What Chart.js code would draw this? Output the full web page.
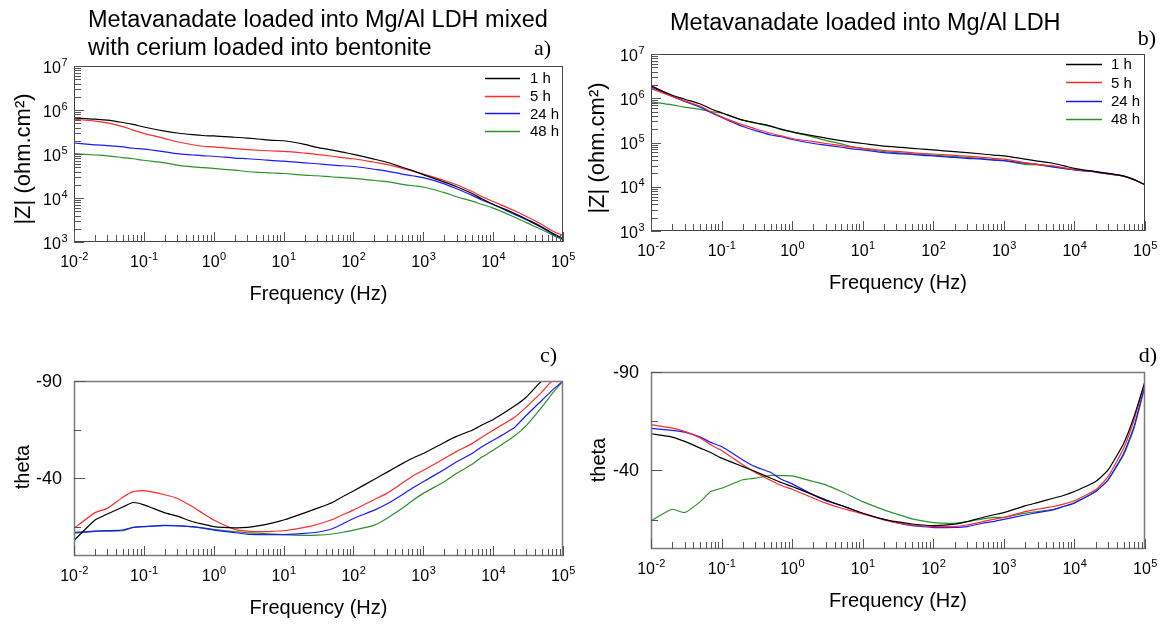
<!DOCTYPE html>
<html>
<head>
<meta charset="utf-8">
<title>Bode plots - metavanadate LDH coatings</title>
<script src="https://cdn.jsdelivr.net/npm/chart.js@4.4.1/dist/chart.umd.min.js"></script>
<style>
  html, body { margin: 0; padding: 0; background: #fff; }
  #wrap { position: relative; width: 1168px; height: 624px; overflow: hidden; }
  #wrap canvas { position: absolute; }
</style>
</head>
<body>
<div id="wrap">
  <canvas id="panelA" width="584" height="312" style="left:0;top:0"></canvas>
  <canvas id="panelB" width="584" height="312" style="left:584px;top:0"></canvas>
  <canvas id="panelC" width="584" height="312" style="left:0;top:312px"></canvas>
  <canvas id="panelD" width="584" height="312" style="left:584px;top:312px"></canvas>
</div>
<script>
// --- DATOS ---
const freq = [0.01, 0.02, 0.03, 0.05, 0.07, 0.1, 0.2, 0.3, 0.5, 0.7,
              1, 2, 3, 5, 7, 10, 20, 30, 50, 70,
              100, 200, 300, 500, 700, 1e3, 2e3, 3e3, 5e3, 7e3,
              1e4, 2e4, 3e4, 5e4, 7e4, 1e5];

const legendLabels = ['1 h', '5 h', '24 h', '48 h'];
const seriesColors = ['#000000', '#ff2a2a', '#1a1aff', '#2a922a'];

// |Z| (ohm.cm2), mezcla LDH + bentonita
const zA1  = [6.6e5, 6.2e5, 5.9e5, 5.2e5, 4.7e5, 4.1e5, 3.3e5, 3.0e5, 2.75e5, 2.63e5,
              2.57e5, 2.4e5, 2.3e5, 2.14e5, 2.04e5, 2.0e5, 1.66e5, 1.41e5, 1.23e5, 1.1e5,
              9.8e4, 7.6e4, 6.5e4, 5.0e4, 4.2e4, 3.4e4, 2.3e4, 1.8e4, 1.26e4, 9.5e3,
              7.2e3, 4.5e3, 3.3e3, 2.2e3, 1.6e3, 1.2e3];
const zA5  = [6.2e5, 5.6e5, 5.1e5, 4.2e5, 3.5e5, 2.95e5, 2.24e5, 1.9e5, 1.62e5, 1.5e5,
              1.45e5, 1.32e5, 1.26e5, 1.2e5, 1.17e5, 1.15e5, 1.05e5, 9.8e4, 8.9e4, 8.3e4,
              7.8e4, 6.5e4, 5.8e4, 4.7e4, 4.1e4, 3.5e4, 2.5e4, 2.0e4, 1.4e4, 1.07e4,
              8.3e3, 5.2e3, 3.8e3, 2.5e3, 1.8e3, 1.4e3];
const zA24 = [1.78e5, 1.62e5, 1.55e5, 1.45e5, 1.35e5, 1.29e5, 1.12e5, 1.02e5, 9.5e4, 9.1e4,
              8.9e4, 8.1e4, 7.8e4, 7.4e4, 7.1e4, 6.9e4, 6.3e4, 6.0e4, 5.6e4, 5.4e4,
              5.2e4, 4.5e4, 4.1e4, 3.5e4, 3.2e4, 2.9e4, 2.1e4, 1.62e4, 1.15e4, 8.9e3,
              7.1e3, 4.3e3, 3.2e3, 2.1e3, 1.55e3, 1.17e3];
const zA48 = [1.02e5, 9.5e4, 9.1e4, 8.3e4, 7.8e4, 7.2e4, 6.3e4, 5.6e4, 5.1e4, 4.9e4,
              4.7e4, 4.3e4, 4.0e4, 3.8e4, 3.7e4, 3.6e4, 3.3e4, 3.2e4, 3.0e4, 2.9e4,
              2.8e4, 2.5e4, 2.35e4, 2.05e4, 1.9e4, 1.78e4, 1.32e4, 1.07e4, 8.5e3, 7.1e3,
              5.9e3, 3.7e3, 2.75e3, 1.9e3, 1.45e3, 1.12e3];

// |Z| (ohm.cm2), solo LDH
const zB1  = [1.9e6, 1.17e6, 9.5e5, 7.4e5, 5.8e5, 4.7e5, 3.2e5, 2.8e5, 2.35e5, 2.0e5,
              1.74e5, 1.41e5, 1.26e5, 1.1e5, 1.02e5, 9.5e4, 8.3e4, 7.9e4, 7.4e4, 7.1e4,
              6.8e4, 6.2e4, 5.9e4, 5.5e4, 5.2e4, 5.0e4, 4.2e4, 3.8e4, 3.4e4, 3.0e4,
              2.6e4, 2.2e4, 2.0e4, 1.74e4, 1.45e4, 1.1e4];
const zB5  = [1.66e6, 1.1e6, 8.7e5, 6.6e5, 5.0e5, 3.8e5, 2.5e5, 2.05e5, 1.62e5, 1.41e5,
              1.23e5, 1.05e5, 9.5e4, 8.5e4, 7.9e4, 7.4e4, 6.6e4, 6.3e4, 5.9e4, 5.6e4,
              5.5e4, 5.1e4, 4.9e4, 4.6e4, 4.4e4, 4.2e4, 3.5e4, 3.2e4, 2.95e4, 2.7e4,
              2.45e4, 2.2e4, 2.0e4, 1.74e4, 1.45e4, 1.1e4];
const zB24 = [1.78e6, 1.1e6, 8.5e5, 6.3e5, 4.8e5, 3.7e5, 2.3e5, 1.86e5, 1.48e5, 1.35e5,
              1.17e5, 9.5e4, 8.7e4, 7.8e4, 7.2e4, 6.8e4, 5.9e4, 5.6e4, 5.4e4, 5.1e4,
              5.0e4, 4.6e4, 4.4e4, 4.2e4, 4.0e4, 3.9e4, 3.4e4, 3.2e4, 2.8e4, 2.6e4,
              2.4e4, 2.15e4, 1.95e4, 1.74e4, 1.45e4, 1.1e4];
const zB48 = [8.3e5, 7.1e5, 6.3e5, 5.6e5, 5.0e5, 4.6e5, 3.2e5, 2.75e5, 2.3e5, 1.95e5,
              1.74e5, 1.32e5, 1.12e5, 9.3e4, 8.1e4, 7.4e4, 6.2e4, 5.9e4, 5.5e4, 5.4e4,
              5.2e4, 4.8e4, 4.6e4, 4.3e4, 4.1e4, 3.9e4, 3.2e4, 3.1e4, 2.8e4, 2.6e4,
              2.4e4, 2.15e4, 1.95e4, 1.74e4, 1.45e4, 1.1e4];

// theta (grados), mezcla LDH + bentonita
const thC1  = [-8, -18.5, -21.6, -25.2, -27.5, -26.3, -22.2, -20.5, -17.6, -16.4,
               -15.1, -14.5, -14.7, -15.9, -17, -18.5, -22.2, -24.5, -27.5, -30.5,
               -33.4, -39.5, -43, -47.5, -50.3, -52.7, -58.4, -61.5, -64.7, -67.5,
               -70.2, -77, -81.8, -90, -90, -90];
const thC5  = [-14.2, -22.3, -24.5, -30.2, -33.1, -33.6, -31.5, -29.6, -25.3, -21.9,
               -18.5, -13.7, -12.8, -12.5, -12.7, -13, -14.7, -16.2, -18.8, -21.2,
               -23.6, -29.1, -32.2, -37.5, -41, -44.1, -50.1, -53.8, -57.8, -61.2,
               -64.7, -71.2, -76.7, -84.4, -90, -90];
const thC24 = [-12.1, -12.8, -13, -13.3, -14.7, -15.1, -15.7, -15.5, -15.1, -14.3,
               -13.3, -12.0, -11.3, -11.0, -11.0, -11.0, -11.6, -12.2, -14, -16.5,
               -19.3, -23.6, -26.7, -31.5, -35, -38.2, -44.5, -48.5, -52.7, -56.3,
               -59.5, -66, -72.4, -80.1, -85.2, -90];
const thC48 = [-11.6, -12.7, -12.8, -13, -14.7, -15.1, -15.6, -15.6, -15.0, -14.5,
               -13.7, -12.5, -12.0, -11.6, -11.3, -11.0, -10.6, -10.7, -11.3, -12.2,
               -13.3, -15.9, -19.3, -24.5, -28.5, -32.2, -38.2, -42.5, -47.2, -51,
               -54.4, -61.6, -67.2, -76.7, -83.5, -90];

// theta (grados), solo LDH
const thD1  = [-58.6, -56.9, -54.7, -51.3, -49.1, -46.2, -41.9, -39.4, -36, -33.8,
               -31.8, -27.5, -25, -22.1, -20.2, -18.2, -15.1, -13.9, -12.7, -12.2,
               -11.9, -12.6, -13.9, -16, -17.3, -18.5, -21.9, -23.6, -25.8, -27.2,
               -29.2, -34.3, -40.2, -53.8, -67.4, -85.2];
const thD5  = [-63.2, -61.5, -59.8, -56.4, -53, -50.1, -42.8, -38.9, -34.8, -32.3,
               -30.4, -25.8, -23.3, -20.7, -19.4, -17.8, -14.8, -13.4, -12.2, -11.7,
               -11.4, -11.4, -12.2, -13.9, -15.1, -16, -19, -20.2, -21.6, -22.8,
               -24.5, -30.1, -36.8, -51.3, -65.7, -85.2];
const thD24 = [-61.3, -60.3, -59.4, -56.9, -54.2, -52.1, -45.3, -41.9, -38.9, -35.5,
               -33.1, -27.5, -24.6, -22.1, -20.2, -18.2, -15.1, -13.4, -11.9, -11.4,
               -10.9, -11, -11.4, -13.1, -13.9, -15.1, -17.3, -18.5, -19.9, -21.6,
               -23.3, -29.2, -35.2, -48.7, -62.3, -83.5];
const thD48 = [-14.4, -20.2, -18.5, -24.1, -29.2, -30.9, -35.2, -36, -37.4, -37.3,
               -37.2, -34.3, -32.6, -29.2, -26.7, -24.1, -19.9, -17.8, -15.3, -14.3,
               -13.4, -13.1, -13.9, -15.3, -16.1, -16.1, -18.2, -19, -20.2, -21.6,
               -23.6, -29.2, -35.2, -47.9, -61.5, -82.7];

// ticks
const freqTickExps = [-2, -1, 0, 1, 2, 3, 4, 5];
const zTickExps = [3, 4, 5, 6, 7];
const thetaTicks = [-90, -65, -40, -15];
const thetaTickLabels = ['-90', '', '-40', ''];

// --- DIBUJO DE EJES / TEXTOS ---
const SANS = '"Liberation Sans", Arial, Helvetica, sans-serif';
const SERIF = '"Liberation Serif", "Times New Roman", serif';

function drawPow(ctx, exp, x, y, align) {
  const base = '10', sup = String(exp);
  ctx.font = '16px ' + SANS;
  const wb = ctx.measureText(base).width;
  ctx.font = '11px ' + SANS;
  const ws = ctx.measureText(sup).width;
  const x0 = align === 'center' ? x - (wb + ws) / 2 : x - wb - ws;
  ctx.textAlign = 'left';
  ctx.textBaseline = 'alphabetic';
  ctx.font = '16px ' + SANS;
  ctx.fillText(base, x0, y);
  ctx.font = '11px ' + SANS;
  ctx.fillText(sup, x0 + wb + 0.5, y - 7);
}

function tickLine(ctx, x1, y1, x2, y2) {
  ctx.beginPath();
  ctx.moveTo(x1, y1);
  ctx.lineTo(x2, y2);
  ctx.stroke();
}

const panelDecor = {
  id: 'panelDecor',
  afterDraw(chart, args, o) {
    const ctx = chart.ctx;
    const { left, right, top, bottom } = chart.chartArea;
    const xs = chart.scales.x, ys = chart.scales.y;
    ctx.save();

    // marco
    ctx.strokeStyle = o.frameColor;
    ctx.lineWidth = o.frameWidth;
    ctx.strokeRect(left + 0.5, top + 0.5, right - left - 1, bottom - top - 1);

    // eje X logaritmico: ticks hacia dentro
    ctx.strokeStyle = '#555';
    ctx.lineWidth = 1;
    freqTickExps.forEach(e => {
      const dec = Math.pow(10, e);
      const px = Math.round(xs.getPixelForValue(dec)) + 0.5;
      tickLine(ctx, px, bottom, px, bottom - 10);
      if (e < freqTickExps[freqTickExps.length - 1]) {
        for (let m = 2; m <= 9; m++) {
          const mx = Math.round(xs.getPixelForValue(m * dec)) + 0.5;
          tickLine(ctx, mx, bottom, mx, bottom - 7);
        }
      }
      ctx.fillStyle = '#000';
      drawPow(ctx, e, xs.getPixelForValue(dec), bottom + 25, 'center');
    });

    // eje Y
    if (o.yKind === 'log') {
      zTickExps.forEach(e => {
        const dec = Math.pow(10, e);
        const py = Math.round(ys.getPixelForValue(dec)) + 0.5;
        tickLine(ctx, left, py, left + 10, py);
        if (e < zTickExps[zTickExps.length - 1]) {
          for (let m = 2; m <= 9; m++) {
            const my = Math.round(ys.getPixelForValue(m * dec)) + 0.5;
            tickLine(ctx, left, my, left + 7, my);
          }
        }
        ctx.fillStyle = '#000';
        drawPow(ctx, e, left - 7, ys.getPixelForValue(dec) + 6.5, 'right');
      });
    } else {
      thetaTicks.forEach((t, i) => {
        const py = Math.round(ys.getPixelForValue(t)) + 0.5;
        tickLine(ctx, left, py, left + (thetaTickLabels[i] ? 11 : 7), py);
        if (thetaTickLabels[i]) {
          ctx.fillStyle = '#000';
          ctx.font = '18px ' + SANS;
          ctx.textAlign = 'right';
          ctx.textBaseline = 'middle';
          ctx.fillText(thetaTickLabels[i], left - 12, py + 1);
        }
      });
    }

    // titulos de ejes
    ctx.fillStyle = '#000';
    ctx.font = '20px ' + SANS;
    ctx.textAlign = 'center';
    ctx.textBaseline = 'alphabetic';
    ctx.fillText(o.xTitle, (left + right) / 2, bottom + 58);

    ctx.save();
    ctx.translate(o.yTitleX, o.yTitleY);
    ctx.rotate(-Math.PI / 2);
    ctx.font = o.yTitleSize + 'px ' + SANS;
    ctx.textBaseline = 'middle';
    ctx.fillText(o.yTitle, 0, 0);
    ctx.restore();

    // leyenda
    if (o.legend) {
      chart.data.datasets.forEach((ds, i) => {
        const y = top + o.legendTop + i * o.legendGap;
        ctx.strokeStyle = ds.borderColor;
        ctx.lineWidth = 1.3;
        tickLine(ctx, right - o.legendLine, Math.round(y) + 0.5, right - 43, Math.round(y) + 0.5);
        ctx.fillStyle = '#000';
        ctx.font = '15px ' + SANS;
        ctx.textAlign = 'left';
        ctx.textBaseline = 'middle';
        ctx.fillText(ds.label, right - o.legendText, y + 1);
      });
    }

    // titulo del panel y letra
    ctx.fillStyle = '#000';
    ctx.textBaseline = 'alphabetic';
    ctx.textAlign = 'left';
    ctx.font = '23.5px ' + SANS;
    (o.title || []).forEach((line, i) => {
      ctx.fillText(line, o.titleX, o.titleY + i * 27.5);
    });
    ctx.font = '22px ' + SERIF;
    ctx.textAlign = 'right';
    ctx.fillText(o.letter, o.letterX, o.letterY);

    ctx.restore();
  }
};

function buildDatasets(series, smooth) {
  return series.map((vals, i) => ({
    label: legendLabels[i],
    data: freq.map((f, j) => ({ x: f, y: vals[j] })),
    borderColor: seriesColors[i],
    borderWidth: 1.2,
    pointRadius: 0,
    fill: false,
    tension: smooth ? 0 : 0.15,
    cubicInterpolationMode: smooth ? 'monotone' : 'default'
  }));
}

function crearPanel(id, series, yScale, padding, decor, smooth) {
  return new Chart(document.getElementById(id), {
    type: 'line',
    data: { datasets: buildDatasets(series, smooth) },
    options: {
      responsive: false,
      animation: false,
      layout: { padding: padding },
      scales: {
        x: { type: 'logarithmic', min: 0.01, max: 1e5, display: false },
        y: yScale
      },
      plugins: {
        legend: { display: false },
        tooltip: { enabled: false },
        panelDecor: decor
      }
    },
    plugins: [panelDecor]
  });
}

const zScale = { type: 'logarithmic', min: 1e3, max: 1e7, display: false };
const thetaScale = { type: 'linear', min: -90, max: 0, reverse: true, display: false };

crearPanel('panelA', [zA1, zA5, zA24, zA48], zScale,
  { left: 74, top: 66, right: 21, bottom: 70 },
  { yKind: 'log', frameColor: '#444', frameWidth: 1,
    xTitle: 'Frequency (Hz)', yTitle: '|Z| (ohm.cm²)', yTitleX: 24, yTitleY: 159, yTitleSize: 22,
    legend: true, legendTop: 12, legendGap: 17.7, legendLine: 78, legendText: 33,
    title: ['Metavanadate loaded into Mg/Al LDH mixed', 'with cerium loaded into bentonite'],
    titleX: 88, titleY: 27, letter: 'a)', letterX: 551, letterY: 55 }, true);

crearPanel('panelB', [zB1, zB5, zB24, zB48], zScale,
  { left: 67, top: 54, right: 23, bottom: 81 },
  { yKind: 'log', frameColor: '#444', frameWidth: 1,
    xTitle: 'Frequency (Hz)', yTitle: '|Z| (ohm.cm²)', yTitleX: 14, yTitleY: 148, yTitleSize: 22,
    legend: true, legendTop: 10, legendGap: 18.4, legendLine: 79, legendText: 34,
    title: ['Metavanadate loaded into Mg/Al LDH'],
    titleX: 86, titleY: 30, letter: 'b)', letterX: 572, letterY: 45 }, true);

crearPanel('panelC', [thC1, thC5, thC24, thC48], thetaScale,
  { left: 74, top: 69, right: 21, bottom: 68 },
  { yKind: 'theta', frameColor: '#7a7a7a', frameWidth: 1.5,
    xTitle: 'Frequency (Hz)', yTitle: 'theta', yTitleX: 23, yTitleY: 155, yTitleSize: 20,
    legend: false, title: [], letter: 'c)', letterX: 557, letterY: 50 }, false);

crearPanel('panelD', [thD1, thD5, thD24, thD48], thetaScale,
  { left: 67, top: 60, right: 23, bottom: 75 },
  { yKind: 'theta', frameColor: '#7a7a7a', frameWidth: 1.5,
    xTitle: 'Frequency (Hz)', yTitle: 'theta', yTitleX: 15, yTitleY: 148, yTitleSize: 20,
    legend: false, title: [], letter: 'd)', letterX: 573, letterY: 50 }, false);
</script>
</body>
</html>
